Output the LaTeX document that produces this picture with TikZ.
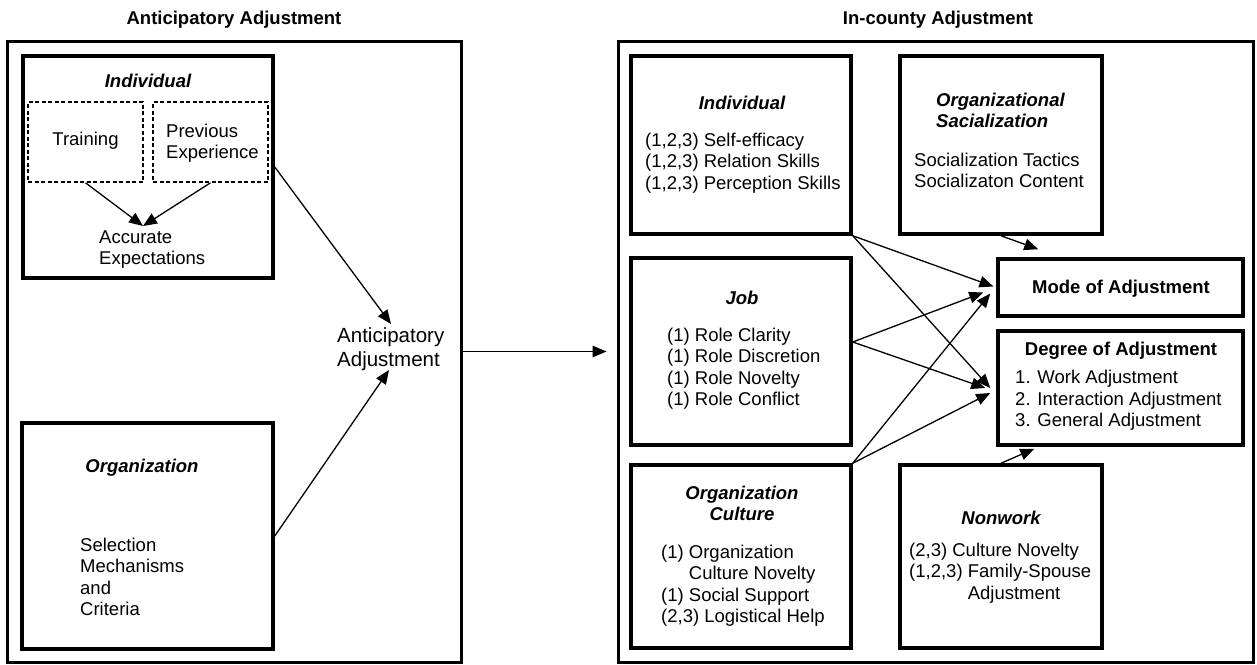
\documentclass[tikz,border=0pt]{standalone}
\usepackage{fontspec}
\setmainfont{Liberation Sans}
\usetikzlibrary{arrows.meta,calc}
\begin{document}
\begin{tikzpicture}[x=1pt,y=-1pt,
  every node/.style={font=\fontsize{18.5}{21.5}\selectfont, inner sep=0pt},
  innerbox/.style={draw, line width=3.5pt},
  dotbox/.style={draw, line width=1.6pt, dash pattern=on 4pt off 2.5pt, minimum width=115pt, minimum height=80pt},
  hdr/.style={font=\fontsize{18.5}{21.5}\selectfont\bfseries\itshape},
  ttl/.style={font=\fontsize{18.5}{21.5}\selectfont\bfseries},
  txt/.style={align=left, anchor=west},
  arr/.style={line width=1.3pt, -{Triangle[length=14pt,width=11.5pt]}}
]
\useasboundingbox (0,0) rectangle (1257,664);

% titles
\node[ttl] (t1) at (234,20) {Anticipatory Adjustment};
\node[ttl] (t2) at (938,20) {In-county Adjustment};

% outer boxes
\node[draw, line width=3pt, minimum width=454pt, minimum height=621pt] (leftouter) at (234,351.5) {};
\node[draw, line width=3pt, minimum width=635pt, minimum height=621pt] (rightouter) at (935.5,351.5) {};

% ---------- left ----------
\node[innerbox, minimum width=250pt, minimum height=222pt] (indL) at (148,167) {};
\node[hdr] (indLh) at (148,81) {Individual};
\node[dotbox] (training) at (85.5,142) {};
\node[dotbox] (prevexp) at (210.5,142) {};
\node (trainingt) at (85.5,141) {Training};
\node[txt] (prevexpt) at (166,143) {Previous\\Experience};
\node[txt] (acc) at (99,249.5) {Accurate\\Expectations};
\coordinate (accin) at (143,226);

\node[innerbox, minimum width=251pt, minimum height=226pt] (org) at (147.5,536) {};
\node[hdr] (orgh) at (142,468) {Organization};
\node[txt] (orgt) at (80,577) {Selection\\Mechanisms\\and\\Criteria};

\node[txt, font=\fontsize{20.5}{24}\selectfont] (antic) at (337,349) {Anticipatory\\Adjustment};
\coordinate (anticN) at (391,324);
\coordinate (anticS) at (389,370);

\draw[arr] (training.south) -- (accin);
\draw[arr] (prevexp.south) -- (accin);
\draw[arr] (indL.east) -- (anticN);
\draw[arr] (org.east) -- (anticS);
\draw[arr, shorten >=10pt] (leftouter.east) -- (rightouter.west);

% ---------- right ----------
\node[innerbox, minimum width=220pt, minimum height=178pt] (indR) at (741,145) {};
\node[hdr] (indRh) at (742,103) {Individual};
\node[txt] (indRt) at (645,163) {(1,2,3) Self-efficacy\\(1,2,3) Relation Skills\\(1,2,3) Perception Skills};

\node[innerbox, minimum width=202pt, minimum height=178pt] (orgsoc) at (1001,145) {};
\node[hdr, txt] (orgsoch) at (936,110.5) {Organizational\\Sacialization};
\node[txt] (orgsoct) at (914,170.5) {Socialization Tactics\\Socializaton Content};

\node[innerbox, minimum width=245pt, minimum height=57pt] (mode) at (1120.5,287.5) {};
\node[ttl] (modet) at (1121,289) {Mode of Adjustment};

\node[innerbox, minimum width=245pt, minimum height=114pt] (degree) at (1120.5,388) {};
\node[ttl] (degreeh) at (1121,351) {Degree of Adjustment};
\node[txt] (degreet) at (1015,400.5) {1. Work Adjustment\\2. Interaction Adjustment\\3. General Adjustment};

\node[innerbox, minimum width=220pt, minimum height=187pt] (job) at (741,351.5) {};
\node[hdr] (jobh) at (742,298) {Job};
\node[txt] (jobt) at (667,368.5) {(1) Role Clarity\\(1) Role Discretion\\(1) Role Novelty\\(1) Role Conflict};

\node[innerbox, minimum width=220pt, minimum height=183pt] (orgcult) at (741,556.5) {};
\node[hdr, align=center] (orgculth) at (742,503.5) {Organization\\Culture};
\node[txt] (orgcultt) at (661,585.5) {(1) Organization\\\phantom{(1) }Culture Novelty\\(1) Social Support\\(2,3) Logistical Help};

\node[innerbox, minimum width=202pt, minimum height=183pt] (nonwork) at (1001,556.5) {};
\node[hdr] (nonworkh) at (1001,518) {Nonwork};
\node[txt] (nonworkt) at (909,573) {(2,3) Culture Novelty\\(1,2,3) Family-Spouse\\\phantom{(1,2,3) }Adjustment};

\coordinate (jobout) at ($(job.east)+(0,-9.5)$);

\draw[arr, shorten >=3pt] (indR.south east) -- (mode.west);
\draw[arr] (indR.south east) -- ($(degree.west)+(-6,0)$);
\draw[arr] (jobout) -- ($(mode.west)+(-13,5)$);
\draw[arr] (jobout) -- ($(degree.west)+(-11,0)$);
\draw[arr] (orgcult.north east) -- ($(mode.west)+(-6,6)$);
\draw[arr] (orgcult.north east) -- ($(degree.west)+(-6,5)$);
\draw[arr] (orgsoc.south) -- ($(mode.north west)+(42,-8)$);
\draw[arr] (nonwork.north) -- ($(degree.south west)+(38,2)$);
\end{tikzpicture}
\end{document}
